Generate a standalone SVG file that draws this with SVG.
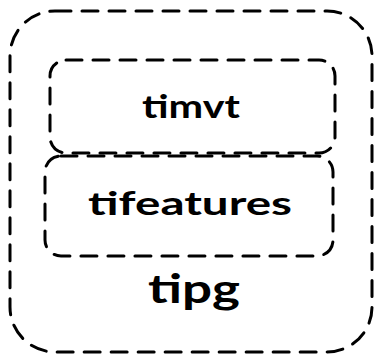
<svg xmlns="http://www.w3.org/2000/svg" width="379" height="361" viewBox="0 0 379 361">
<style>
.box{fill:none;stroke:#000;stroke-width:3;stroke-dasharray:16 11;stroke-linecap:round}
.lbl{font-family:"Lato","Liberation Sans",sans-serif;font-weight:700;fill:#000;text-anchor:middle}
</style>
<rect width="379" height="361" fill="#fff"/>
<g id="tipg">
<rect class="box" x="10" y="11" width="362" height="341" rx="45"/>
<text class="lbl" x="194" y="303" font-size="40" textLength="92" lengthAdjust="spacingAndGlyphs">tipg</text>
</g>
<g id="timvt">
<rect class="box" x="50" y="60" width="285" height="93" rx="16"/>
<text class="lbl" x="191" y="118" font-size="33" textLength="98" lengthAdjust="spacingAndGlyphs">timvt</text>
</g>
<g id="tifeatures">
<rect class="box" x="45" y="156" width="288" height="100" rx="16"/>
<text class="lbl" x="190" y="215" font-size="33" textLength="204" lengthAdjust="spacingAndGlyphs">tifeatures</text>
</g>
<g id="connectors"/>
</svg>
